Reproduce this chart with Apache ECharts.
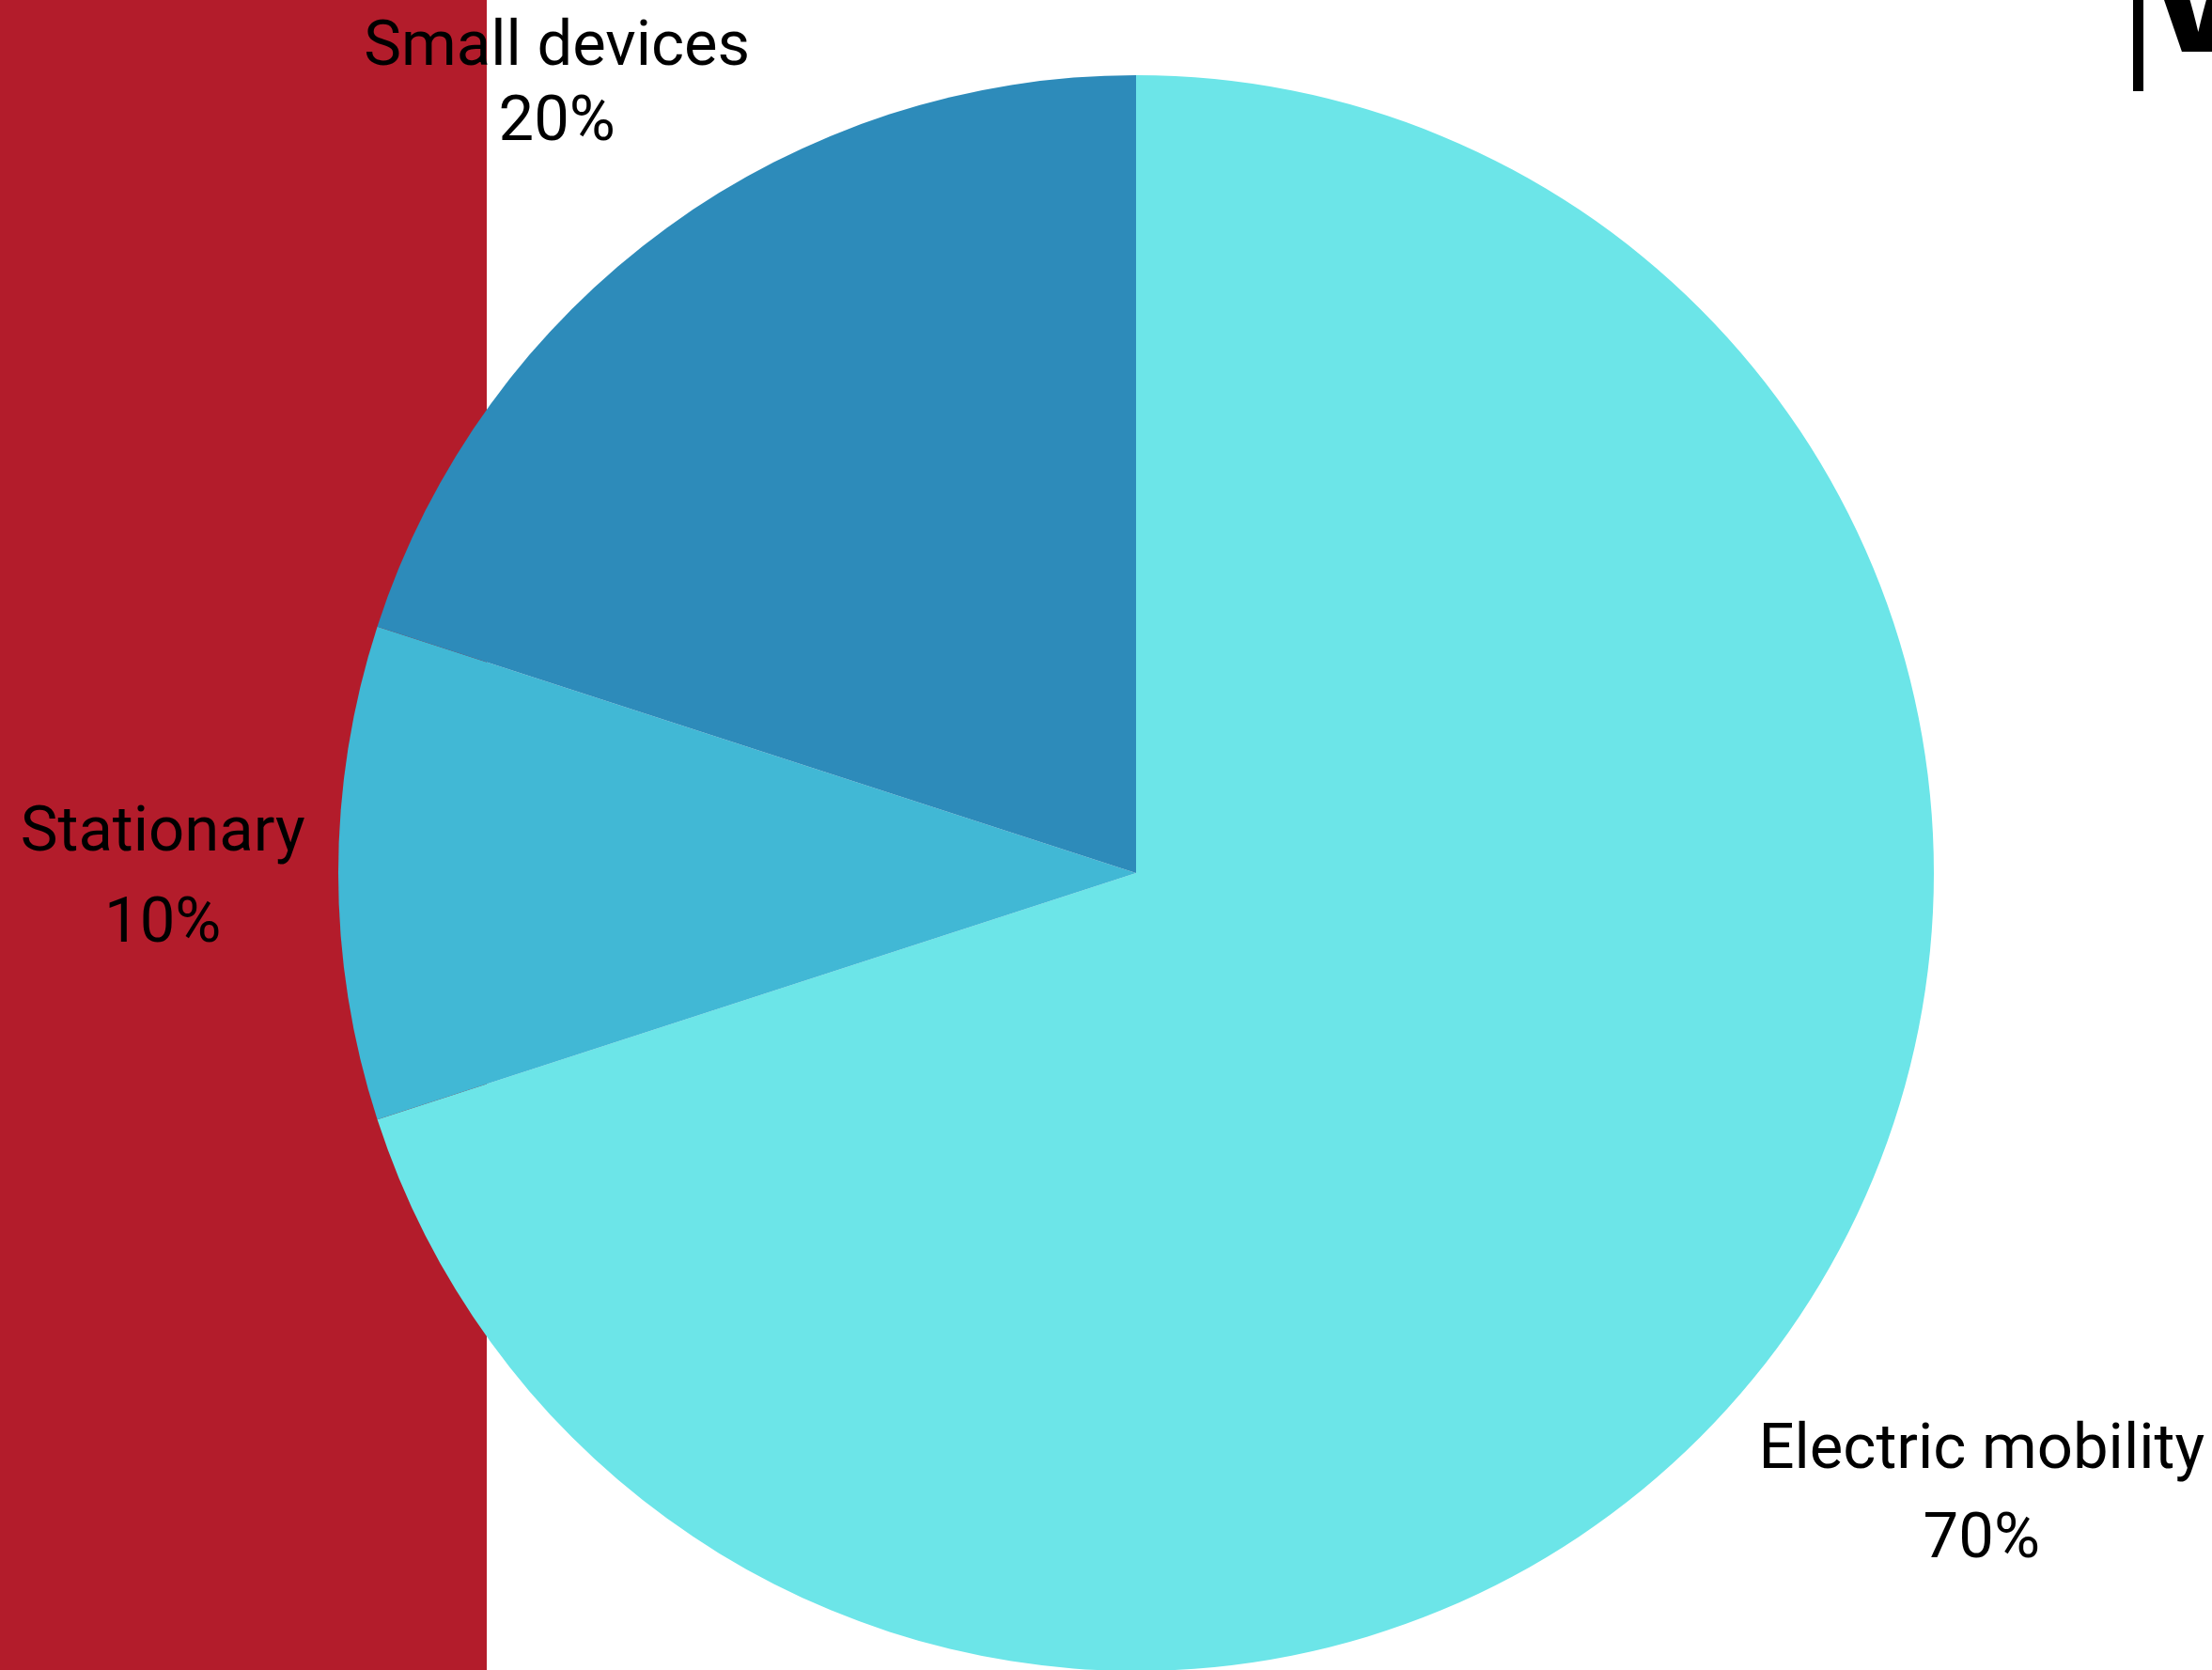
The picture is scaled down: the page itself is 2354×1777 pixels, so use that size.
<!DOCTYPE html>
<html>
<head>
<meta charset="utf-8">
<script src="https://cdn.jsdelivr.net/npm/echarts@6/dist/echarts.min.js"></script>
<style>html,body{margin:0;padding:0;background:#fff;}#c{width:2354px;height:1777px;}</style>
</head>
<body>
<div id="c"></div>
<script>
const categories = ['Electric mobility', 'Stationary', 'Small devices'];
const shares = [70, 10, 20];
const sliceColors = ['#6ce5e8', '#41b8d5', '#2d8bba'];
const labelRadiusFactor = [1.31, 1.22, 1.235];
const labelLineHeights = [95, 97, 80];
const labelShiftY = [10, 8, 12];

const CX = 1209, CY = 929, R = 849;
const total = shares.reduce((a, b) => a + b, 0);
const midAngles = [];
(function () {
  let acc = 0;
  for (let i = 0; i < shares.length; i++) {
    const a = (acc + shares[i] / 2) / total * 2 * Math.PI; // clockwise from top
    midAngles.push(a);
    acc += shares[i];
  }
})();

const chart = echarts.init(document.getElementById('c'), null, { renderer: 'canvas' });
chart.setOption({
  backgroundColor: '#ffffff',
  animation: false,
  graphic: [
    { type: 'rect', left: 0, top: 0, z: -10, shape: { x: 0, y: 0, width: 518, height: 1777 }, style: { fill: '#b31c2b' } },
    { type: 'rect', z: 10, shape: { x: 2270, y: 0, width: 11, height: 97 }, style: { fill: '#000' } },
    { type: 'text', z: 10, x: 2281, y: 85, style: { text: 'V', fontFamily: 'Inter', fontWeight: 800, fontSize: 150, fill: '#000', textVerticalAlign: 'bottom', textBaseline: 'alphabetic' } }
  ],
  series: [{
    type: 'pie',
    center: [CX, CY],
    radius: [0, R],
    startAngle: 90,
    clockwise: true,
    silent: true,
    avoidLabelOverlap: false,
    labelLine: { show: false },
    label: {
      show: true,
      position: 'outside',
      formatter: p => p.name + '\n' + p.value + '%',
      fontFamily: 'Roboto',
      fontSize: 67,
      color: '#000',
      align: 'center'
    },
    labelLayout: function (params) {
      const i = params.dataIndex;
      const a = midAngles[i];
      const r = R * labelRadiusFactor[i];
      return {
        x: CX + r * Math.sin(a),
        y: CY - r * Math.cos(a) + labelShiftY[i],
        align: 'center',
        verticalAlign: 'middle'
      };
    },
    itemStyle: { borderWidth: 0 },
    data: categories.map((c, i) => ({
      name: c, value: shares[i],
      itemStyle: { color: sliceColors[i] },
      label: { lineHeight: labelLineHeights[i] }
    }))
  }]
});
</script>
</body>
</html>
